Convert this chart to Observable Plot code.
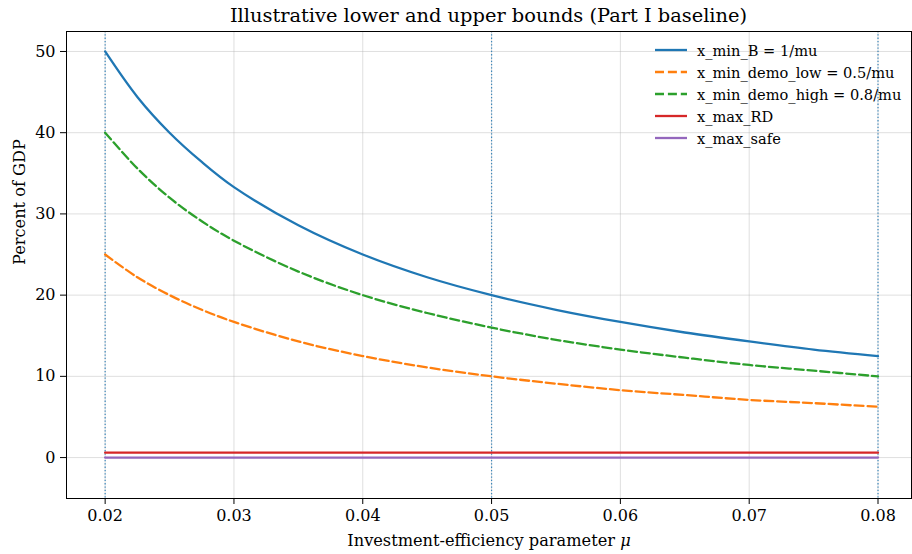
<!DOCTYPE html>
<html>
<head>
<meta charset="utf-8">
<script src="https://cdn.jsdelivr.net/npm/d3@7"></script>
<script src="https://cdn.jsdelivr.net/npm/@observablehq/plot@0.6"></script>
<style>
  body { margin: 0; background: #fff; }
  #wrap { position: relative; width: 912px; height: 554px; font-family: "DejaVu Serif", serif; }
  #title { height: 30px; box-sizing: border-box; padding-left: 66px; padding-right: 1px; text-align: center; font-size: 19.4px; line-height: 31px; color: #000; white-space: nowrap; }
  #legend { position: absolute; left: 655px; top: 39px; font-size: 14.6px; color: #000; }
  #legend .row { display: flex; align-items: center; height: 22px; }
  #legend svg { margin-right: 10px; }
</style>
</head>
<body>
<div id="wrap">
  <div id="title"></div>
  <div id="chart"></div>
  <div id="legend"></div>
</div>
<script>
const titleText = "Illustrative lower and upper bounds (Part I baseline)";
const xLabel = "Investment-efficiency parameter μ";
const yLabel = "Percent of GDP";

const mu = [0.02, 0.0225, 0.025, 0.0275, 0.03, 0.035, 0.04, 0.045, 0.05, 0.055, 0.06, 0.065, 0.07, 0.075, 0.08];
const xMinB =        [50, 44.4, 40, 36.4, 33.3, 28.6, 25, 22.2, 20, 18.2, 16.7, 15.4, 14.3, 13.3, 12.5];
const xMinDemoLow =  [25, 22.2, 20, 18.2, 16.7, 14.3, 12.5, 11.1, 10, 9.1, 8.3, 7.7, 7.1, 6.7, 6.25];
const xMinDemoHigh = [40, 35.6, 32, 29.1, 26.7, 22.9, 20, 17.8, 16, 14.5, 13.3, 12.3, 11.4, 10.7, 10];
const flatMu = [0.02, 0.08];
const xMaxRD = [0.6, 0.6];
const xMaxSafe = [0, 0];
const boundaryMu = [0.02, 0.05, 0.08];

const seriesNames = ["x_min_B = 1/mu", "x_min_demo_low = 0.5/mu", "x_min_demo_high = 0.8/mu", "x_max_RD", "x_max_safe"];
const seriesColors = ["#1f77b4", "#ff7f0e", "#2ca02c", "#d62728", "#9467bd"];
const seriesDash = [null, "9,3.9", "9,3.9", null, null];

const xTicks = [0.02, 0.03, 0.04, 0.05, 0.06, 0.07, 0.08];
const yTicks = [0, 10, 20, 30, 40, 50];

const curves = [xMinB, xMinDemoLow, xMinDemoHigh].map((vals, i) =>
  vals.map((v, j) => ({x: mu[j], y: v, s: i})));
const flats = [xMaxRD, xMaxSafe].map((vals, i) =>
  vals.map((v, j) => ({x: flatMu[j], y: v, s: i + 3})));

document.getElementById("title").textContent = titleText;

const marks = [
  Plot.gridX(xTicks, {stroke: "#b0b0b0", strokeOpacity: 0.45, strokeWidth: 0.9}),
  Plot.gridY(yTicks, {stroke: "#b0b0b0", strokeOpacity: 0.45, strokeWidth: 0.9}),
  Plot.ruleX(boundaryMu, {stroke: "#1f77b4", strokeWidth: 1.2, strokeDasharray: "1.3,2", strokeOpacity: 0.85}),
];
curves.forEach((d, k) => {
  marks.push(Plot.line(d, {x: "x", y: "y", stroke: seriesColors[k], strokeWidth: 2.3,
    strokeDasharray: seriesDash[k] || undefined, curve: "catmull-rom"}));
});
flats.forEach((d, k) => {
  marks.push(Plot.line(d, {x: "x", y: "y", stroke: seriesColors[k + 3], strokeWidth: 2.3}));
});
marks.push(
  Plot.axisX(xTicks, {tickFormat: d3.format(".2f"), tickSize: 6, tickPadding: 5, fontSize: 16, label: null}),
  Plot.axisY(yTicks, {tickSize: 6, tickPadding: 5, fontSize: 16, label: null}),
  Plot.text([xLabel], {frameAnchor: "bottom", dy: 42, fontSize: 16.2, lineAnchor: "middle", text: d => d}),
  Plot.text([yLabel], {frameAnchor: "left", dx: -47, rotate: -90, fontSize: 16.2, lineAnchor: "middle", text: d => d}),
  Plot.frame({stroke: "#000", strokeWidth: 1})
);

const chart = Plot.plot({
  width: 912,
  height: 523,
  marginLeft: 66,
  marginRight: 1,
  marginTop: 1,
  marginBottom: 55,
  style: {fontFamily: "DejaVu Serif, serif", fontSize: "16px", color: "#000", background: "#fff"},
  x: {domain: [0.017, 0.0826]},
  y: {domain: [-5.04, 52.46]},
  marks
});
document.getElementById("chart").appendChild(chart);

// italic mu in x label
chart.querySelectorAll("text").forEach(t => {
  if (t.textContent === xLabel) {
    const base = xLabel.slice(0, -1);
    t.textContent = "";
    const a = document.createElementNS("http://www.w3.org/2000/svg", "tspan");
    a.textContent = base;
    const b = document.createElementNS("http://www.w3.org/2000/svg", "tspan");
    b.textContent = "μ";
    b.setAttribute("font-style", "italic");
    t.appendChild(a); t.appendChild(b);
  }
});

// legend
const legend = document.getElementById("legend");
seriesNames.forEach((name, i) => {
  const row = document.createElement("div");
  row.className = "row";
  const dash = seriesDash[i] ? `stroke-dasharray="${seriesDash[i]}"` : "";
  row.innerHTML = `<svg width="32" height="6"><line x1="0" y1="3" x2="32" y2="3" stroke="${seriesColors[i]}" stroke-width="2.3" ${dash}/></svg><span>${name}</span>`;
  legend.appendChild(row);
});
</script>
</body>
</html>
